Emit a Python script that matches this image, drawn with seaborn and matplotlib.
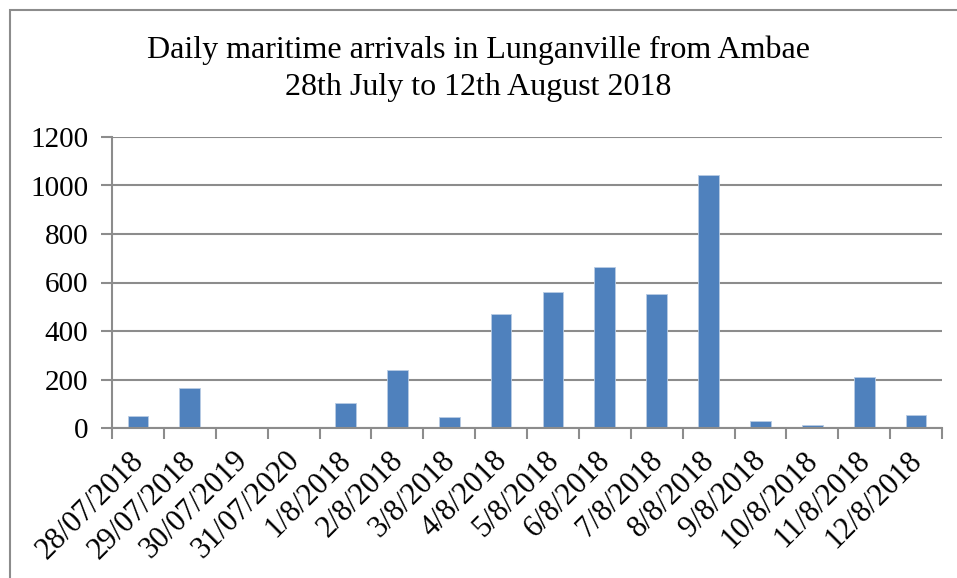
import matplotlib
matplotlib.use("Agg")
import matplotlib.pyplot as plt
import matplotlib.transforms as mtransforms
import seaborn as sns
import numpy as np
import pandas as pd
from matplotlib.patches import Rectangle

dates = ["28/07/2018", "29/07/2018", "30/07/2019", "31/07/2020", "1/8/2018",
         "2/8/2018", "3/8/2018", "4/8/2018", "5/8/2018", "6/8/2018",
         "7/8/2018", "8/8/2018", "9/8/2018", "10/8/2018", "11/8/2018", "12/8/2018"]
arrivals = [49, 165, 0, 0, 105, 239, 44, 471, 562, 662, 553, 1044, 30, 11, 210, 54]
title_lines = ["Daily maritime arrivals in Lunganville from Ambae",
               "28th July to 12th August 2018"]

sns.set_theme(style="white")
plt.rcParams['font.family'] = ['Liberation Serif', 'DejaVu Serif']
plt.rcParams['text.color'] = 'black'
plt.rcParams['xtick.color'] = 'black'
plt.rcParams['ytick.color'] = 'black'

df = pd.DataFrame({"date": dates, "arrivals": arrivals})

fig = plt.figure(figsize=(9.57, 5.78), dpi=100)
ax = fig.add_axes([112/957, 1 - 428/578, (942-112)/957, (428-137)/578])

sns.barplot(data=df, x="date", y="arrivals", color="#4F81BD", width=0.4,
            saturation=1, ax=ax, order=dates)
for p in ax.patches:
    p.set_edgecolor("#b8cce4")
    p.set_linewidth(0.6)

grid_c = "#8c8c8c"
ax.set_ylim(0, 1200)
ax.set_xlim(-0.5, len(dates) - 0.5)
ax.set_yticks(np.arange(0, 1201, 200))
ax.yaxis.grid(True, color=grid_c, linewidth=1.5)
ax.set_axisbelow(True)
for s in ["top", "right"]:
    ax.spines[s].set_visible(False)
for s in ["left", "bottom"]:
    ax.spines[s].set_color(grid_c)
    ax.spines[s].set_linewidth(1.5)

ax.set_xlabel("")
ax.set_ylabel("")
ax.set_xticks(np.arange(len(dates)))
ax.set_xticklabels(dates, rotation=45, ha="right", rotation_mode="anchor", fontsize=22)
ax.set_xticks(np.arange(-0.5, len(dates), 1), minor=True)
ax.tick_params(axis="x", which="major", length=0, pad=10, colors="black")
ax.tick_params(axis="x", which="minor", length=8, width=1.5, color=grid_c, direction="out", bottom=True)
ax.tick_params(axis="y", length=8, width=1.5, color=grid_c, labelcolor="black",
               direction="out", left=True, labelsize=21, pad=9)

offset = mtransforms.ScaledTranslation(-9/100, -4/100, fig.dpi_scale_trans)
for lbl in ax.get_xticklabels():
    lbl.set_transform(lbl.get_transform() + offset)

fig.text(0.5, 1 - 50/578, title_lines[0], ha="center", va="center", fontsize=23)
fig.text(0.5, 1 - 88/578, title_lines[1], ha="center", va="center", fontsize=23)

fig.patches.append(Rectangle((10/957, -0.1), 1.2, 1 - 10/578 + 0.1, transform=fig.transFigure,
                             fill=False, edgecolor=grid_c, linewidth=1.5))

fig.savefig("out.png", dpi=100)
